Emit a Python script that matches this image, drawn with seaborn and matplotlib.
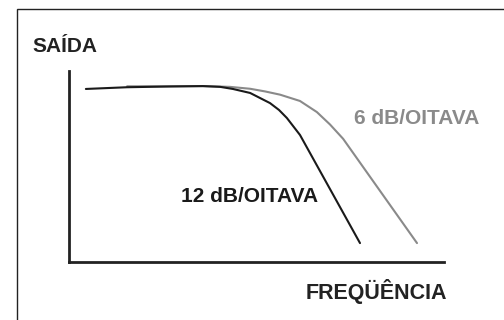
import pandas as pd
import seaborn as sns
import matplotlib.pyplot as plt
from matplotlib.patches import Rectangle

# Curves (frequency 0-100, output 0-100, arbitrary units)
freq_12db = [4.5, 15.5, 26.9, 35.7, 40.3, 43.7, 48.3, 53.6, 56.0, 58.1, 61.6, 77.6]
out_12db = [90.6, 91.5, 91.9, 92.1, 91.7, 90.6, 88.5, 83.2, 79.6, 75.4, 66.5, 9.9]

freq_6db = [15.5, 26.9, 35.7, 42.9, 48.3, 52.3, 56.3, 61.6, 66.1, 69.6, 73.1, 92.8]
out_6db = [92.0, 92.0, 92.1, 91.7, 90.7, 89.3, 87.6, 84.3, 78.5, 72.0, 64.5, 9.9]

labels = ["6 dB/OITAVA", "12 dB/OITAVA"]
colors = {"6 dB/OITAVA": "#8a8a8a", "12 dB/OITAVA": "#1a1a1a"}

df = pd.concat([
    pd.DataFrame({"Frequência": freq_6db, "Saída": out_6db, "Curva": labels[0]}),
    pd.DataFrame({"Frequência": freq_12db, "Saída": out_12db, "Curva": labels[1]}),
])

sns.set_style("white")
plt.rcParams["font.family"] = ["Liberation Sans", "DejaVu Sans"]

fig = plt.figure(figsize=(5.04, 3.2), dpi=100)
ax = fig.add_axes([69 / 504, 58 / 320, 375 / 504, 191 / 320])

sns.lineplot(data=df, x="Frequência", y="Saída", hue="Curva",
             estimator=None, sort=False, palette=colors, linewidth=1.5,
             legend=False, ax=ax)
ax.set_xlim(0, 100)
ax.set_ylim(0, 100)
ax.set_xticks([])
ax.set_yticks([])
ax.set_xlabel("")
ax.set_ylabel("")
sns.despine(ax=ax)
for s in ("left", "bottom"):
    ax.spines[s].set_linewidth(2)
    ax.spines[s].set_color("#222222")

# outer frame (continues past right and bottom edges)
fig.add_artist(Rectangle((17 / 504, -0.5), 2, 0.972 + 0.5, fill=False,
                         lw=1, edgecolor="#222222", transform=fig.transFigure))

fs = 15
fig.text(32 / 504, 1 - 47 / 320, "SAÍDA", fontsize=fs, fontweight="bold",
         color="#222222", ha="left", va="center")
fig.text(306 / 504, 1 - 291 / 320, "FREQÜÊNCIA", fontsize=15.5, fontweight="bold",
         color="#222222", ha="left", va="center")
fig.text(181 / 504, 1 - 197 / 320, labels[1], fontsize=fs, fontweight="bold",
         color=colors[labels[1]], ha="left", va="center")
fig.text(354 / 504, 1 - 118 / 320, labels[0], fontsize=fs, fontweight="bold",
         color=colors[labels[0]], ha="left", va="center")

fig.savefig("out.png", dpi=100)
